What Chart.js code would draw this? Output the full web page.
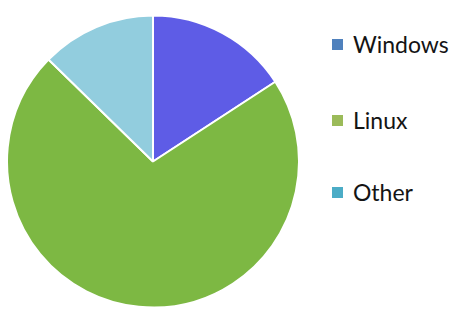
<!DOCTYPE html>
<html lang="en">
    <head>
        <meta charset="utf-8" />
        <title>OS share pie</title>
        <script src="https://cdn.jsdelivr.net/npm/chart.js@4"></script>
        <style>
            html,
            body {
                margin: 0;
                padding: 0;
                background: #fff;
            }
            .wrap {
                position: relative;
                width: 455px;
                height: 311px;
            }
            .pie-box {
                position: absolute;
                left: 0;
                top: 0;
                width: 300px;
                height: 311px;
            }
            .legend {
                position: absolute;
                left: 332px;
                top: 0;
                font-family: "Lato", "Liberation Sans", sans-serif;
                font-size: 23px;
                color: #141414;
            }
            .legend-item {
                position: absolute;
                left: 0;
                display: flex;
                align-items: center;
                white-space: nowrap;
                height: 24px;
            }
            .legend-swatch {
                width: 11px;
                height: 11px;
                margin-right: 10px;
            }
        </style>
    </head>
    <body>
        <div class="wrap">
            <div class="pie-box">
                <canvas id="osPie"></canvas>
            </div>
            <div class="legend" id="osLegend"></div>
        </div>

        <script>
            // data (clockwise from 12 o'clock)
            const osLabels = ["Windows", "Linux", "Other"];
            const osShare = [15.8, 71.5, 12.7];
            const sliceColors = ["#5e5ce6", "#7db843", "#92cdde"];
            const legendColors = ["#4f81bd", "#9bbb59", "#4bacc6"];

            // legend rows (centre y of each row)
            const legendRowsY = [44, 120, 192];
            const legend = document.getElementById("osLegend");
            osLabels.forEach((label, i) => {
                legend.innerHTML += `
              <div class="legend-item" style="top:${legendRowsY[i] - 12}px">
                <span class="legend-swatch" style="background:${legendColors[i]}"></span>
                <span>${label}</span>
              </div>`;
            });

            const ctx = document.getElementById("osPie").getContext("2d");
            new Chart(ctx, {
                type: "pie",
                data: {
                    labels: osLabels,
                    datasets: [
                        {
                            data: osShare,
                            backgroundColor: sliceColors,
                            borderColor: "#ffffff",
                            borderWidth: 2,
                        },
                    ],
                },
                options: {
                    responsive: true,
                    maintainAspectRatio: false,
                    animation: false,
                    layout: {
                        padding: { top: 14, bottom: 2, left: 6, right: 0 },
                    },
                    plugins: {
                        legend: { display: false },
                        tooltip: { enabled: false },
                    },
                },
            });
        </script>
    </body>
</html>
